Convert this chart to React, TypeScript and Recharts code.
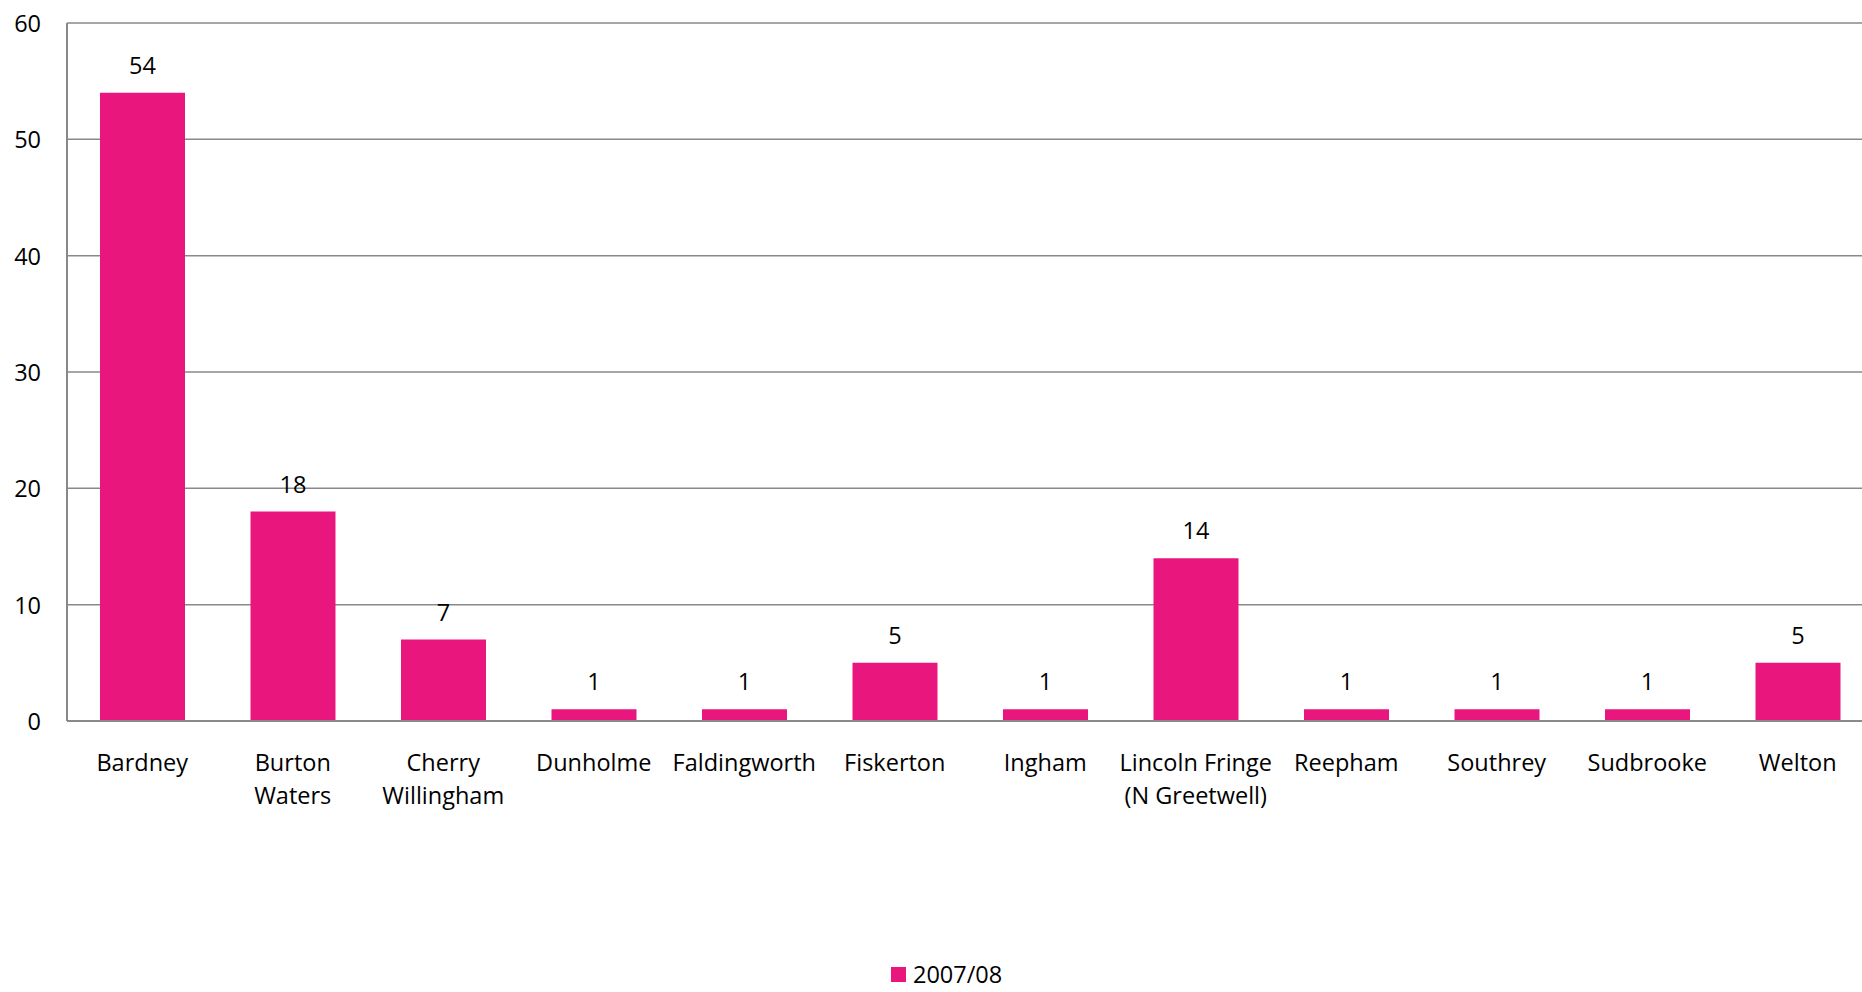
import React from "react";
import { BarChart, Bar, XAxis, YAxis, CartesianGrid, LabelList } from "recharts";

const categories = [
  "Bardney",
  "Burton\nWaters",
  "Cherry\nWillingham",
  "Dunholme",
  "Faldingworth",
  "Fiskerton",
  "Ingham",
  "Lincoln Fringe\n(N Greetwell)",
  "Reepham",
  "Southrey",
  "Sudbrooke",
  "Welton",
];
const values2007 = [54, 18, 7, 1, 1, 5, 1, 14, 1, 1, 1, 5];
const yTicks = [0, 10, 20, 30, 40, 50, 60];
const seriesName = "2007/08";

const data = categories.map((c, i) => ({ name: c, v: values2007[i] }));

const FONT = "'Open Sans', sans-serif";
const FS = 23.5;
const PINK = "#E9177D";
const GRID = "#898989";

const XTick = (props: any) => {
  const { x, y, payload } = props;
  const lines = String(payload.value).split("\n");
  return (
    <g>
      {lines.map((l: string, i: number) => (
        <text
          key={i}
          x={x}
          y={y + 42 + i * 33}
          textAnchor="middle"
          fontFamily={FONT}
          fontSize={FS}
          fill="#000"
        >
          {l}
        </text>
      ))}
    </g>
  );
};

const YTick = (props: any) => {
  const { y, payload } = props;
  return (
    <text
      x={41}
      y={y}
      textAnchor="end"
      dominantBaseline="central"
      fontFamily={FONT}
      fontSize={FS}
      fill="#000"
    >
      {payload.value}
    </text>
  );
};

const TopLabel = (props: any) => {
  const { x, y, width, value } = props;
  return (
    <text
      x={x + width / 2}
      y={y - 19}
      textAnchor="middle"
      fontFamily={FONT}
      fontSize={FS}
      fill="#000"
    >
      {value}
    </text>
  );
};

export default function App() {
  return (
    <div
      style={{
        position: "fixed",
        left: 0,
        top: 0,
        width: 1862,
        height: 992,
        overflow: "hidden",
        background: "#fff",
      }}
    >
      <BarChart
        width={1873}
        height={992}
        data={data}
        margin={{ top: 23, right: 0, bottom: 0, left: 0 }}
      >
        <CartesianGrid vertical={false} stroke={GRID} strokeWidth={1.5} />
        <XAxis
          dataKey="name"
          interval={0}
          height={271}
          tickLine={false}
          axisLine={{ stroke: GRID, strokeWidth: 2 }}
          tick={<XTick />}
        />
        <YAxis
          width={67}
          domain={[0, 60]}
          ticks={yTicks}
          tickLine={false}
          axisLine={{ stroke: GRID, strokeWidth: 2 }}
          tick={<YTick />}
        />
        <Bar dataKey="v" name={seriesName} fill={PINK} barSize={85} isAnimationActive={false}>
          <LabelList dataKey="v" content={<TopLabel />} />
        </Bar>
      </BarChart>
      <div
        style={{
          position: "absolute",
          left: 891,
          top: 964,
          display: "flex",
          alignItems: "center",
          fontFamily: FONT,
          fontSize: FS,
          color: "#000",
          lineHeight: "21px",
          height: 21,
        }}
      >
        <span style={{ display: "inline-block", width: 15, height: 15, background: PINK, marginRight: 7 }} />
        <span>{seriesName}</span>
      </div>
    </div>
  );
}
